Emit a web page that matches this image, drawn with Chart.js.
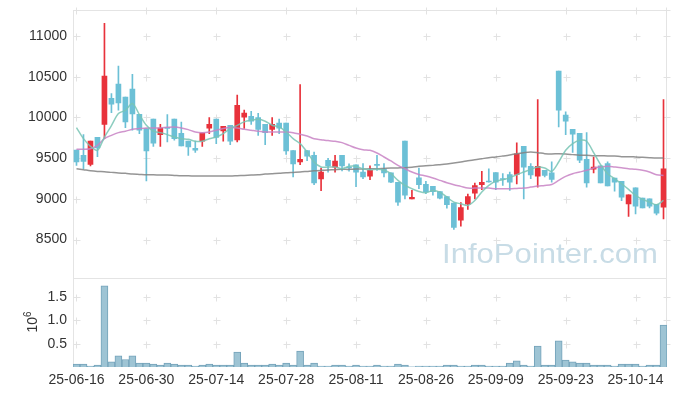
<!DOCTYPE html>
<html>
<head>
<meta charset="utf-8">
<script src="https://cdn.jsdelivr.net/npm/chart.js@4.4.1/dist/chart.umd.min.js"></script>
<style>html,body{margin:0;padding:0;background:#fff;}</style>
</head>
<body>
<canvas id="chart" width="677" height="396"></canvas>
<script>
const dates = [
  "25-06-16","25-06-17","25-06-18","25-06-19","25-06-20","25-06-23","25-06-24","25-06-25","25-06-26","25-06-27",
  "25-06-30","25-07-01","25-07-02","25-07-03","25-07-04","25-07-07","25-07-08","25-07-09","25-07-10","25-07-11",
  "25-07-14","25-07-15","25-07-16","25-07-17","25-07-18","25-07-21","25-07-22","25-07-23","25-07-24","25-07-25",
  "25-07-28","25-07-29","25-07-30","25-07-31","25-08-01","25-08-04","25-08-05","25-08-06","25-08-07","25-08-08",
  "25-08-11","25-08-12","25-08-13","25-08-14","25-08-18","25-08-19","25-08-20","25-08-21","25-08-22","25-08-25",
  "25-08-26","25-08-27","25-08-28","25-08-29","25-09-01","25-09-02","25-09-03","25-09-04","25-09-05","25-09-08",
  "25-09-09","25-09-10","25-09-11","25-09-12","25-09-15","25-09-16","25-09-17","25-09-18","25-09-19","25-09-22",
  "25-09-23","25-09-24","25-09-25","25-09-26","25-09-29","25-09-30","25-10-01","25-10-02","25-10-10","25-10-13",
  "25-10-14","25-10-15","25-10-16","25-10-17","25-10-20"
];

const openP = [
  9600,9535,9425,9755,9915,10235,10410,10250,10350,10040,
  9865,9980,9790,9880,9980,9805,9710,9620,9710,9870,
  9980,9835,9905,9725,10005,10015,10000,9915,9855,9930,
  9930,9595,9455,9595,9535,9245,9475,9390,9535,9390,
  9420,9330,9280,9425,9365,9320,9205,9710,9000,9260,
  9180,9155,9090,9030,8950,8740,8935,9070,9175,9220,
  9325,9250,9300,9300,9645,9400,9280,9350,9320,10570,
  10030,9855,9805,9485,9365,9405,9435,9255,9215,8940,
  9135,9010,9000,8935,8900
];
const highP = [
  9600,9790,9710,9755,11155,10295,10630,10250,10530,10040,
  9865,9980,9915,10035,9980,9945,9710,9710,9810,10000,
  9980,9890,9905,10275,10090,10075,10050,9915,10000,9980,
  9930,9595,10405,9595,9575,9380,9500,9535,9535,9430,
  9420,9435,9405,9535,9435,9320,9205,9710,9105,9380,
  9215,9155,9090,9030,8950,8955,9060,9195,9340,9370,
  9325,9310,9330,9690,9645,9435,10220,9350,9455,10570,
  10070,9855,9805,9815,9515,9405,9455,9255,9215,9050,
  9135,9010,9000,8935,10220
];
const lowP = [
  9410,9370,9405,9520,9740,10060,10090,9875,9845,9800,
  9220,9645,9645,9700,9720,9650,9535,9570,9645,9800,
  9680,9710,9665,9700,9865,9915,9780,9665,9780,9800,
  9545,9270,9420,9470,9175,9100,9330,9330,9345,9340,
  9150,9250,9235,9350,9270,9200,8920,9000,9000,9125,
  9065,9045,9000,8885,8625,8665,8870,9000,9115,9205,
  9115,9165,9105,9185,9000,9250,9145,9270,9205,9885,
  9790,9570,9445,9145,9320,9195,9160,9095,8980,8785,
  8815,8890,8890,8805,8755
];
const closeP = [
  9455,9460,9710,9625,10510,10165,10180,9945,10045,9845,
  9590,9685,9870,9865,9740,9650,9640,9600,9810,9915,
  9755,9890,9710,10150,10055,9955,9855,9815,9915,9870,
  9590,9430,9485,9525,9195,9330,9405,9465,9405,9380,
  9330,9270,9350,9410,9320,9205,8960,9045,9020,9175,
  9085,9090,9010,8930,8650,8895,9030,9165,9205,9210,
  9205,9240,9205,9555,9390,9295,9400,9290,9240,10090,
  9955,9795,9475,9195,9390,9195,9160,9205,9020,9050,
  8910,8890,8910,8825,9370
];

// moving averages as drawn (5, 20, 120 day)
const ma5 = [
  9876,9740,9646,9597,9760,9900,10048,10089,10171,10036,
  9904,9831,9814,9790,9761,9740,9732,9708,9708,9740,
  9761,9802,9864,9904,9946,9966,9978,9954,9904,9884,
  9822,9740,9679,9576,9453,9392,9392,9392,9371,9400,
  9400,9371,9359,9363,9351,9310,9228,9166,9125,9092,
  9076,9104,9084,9022,8961,8940,8920,8981,9084,9166,
  9219,9236,9262,9297,9330,9363,9392,9379,9338,9453,
  9597,9679,9720,9708,9568,9420,9310,9248,9186,9117,
  9043,8994,8961,8928,8981
];
const ma20 = [
  9609,9609,9617,9658,9740,9781,9814,9831,9855,9864,
  9872,9872,9872,9880,9884,9872,9851,9822,9814,9822,
  9843,9864,9876,9872,9855,9843,9831,9822,9822,9822,
  9822,9814,9794,9773,9740,9728,9716,9708,9691,9658,
  9625,9605,9597,9564,9515,9466,9412,9371,9330,9301,
  9281,9256,9228,9199,9174,9154,9133,9133,9133,9133,
  9125,9125,9125,9129,9133,9145,9158,9166,9178,9228,
  9277,9310,9330,9351,9379,9392,9400,9392,9383,9371,
  9363,9351,9330,9297,9289
];
const ma120 = [
  9371,9359,9346,9338,9334,9326,9318,9314,9305,9301,
  9297,9297,9293,9293,9289,9285,9285,9281,9281,9281,
  9281,9281,9281,9285,9289,9293,9297,9305,9310,9314,
  9322,9326,9330,9338,9346,9351,9355,9359,9363,9363,
  9367,9367,9371,9371,9375,9379,9381,9383,9390,9400,
  9408,9412,9420,9429,9440,9453,9468,9482,9494,9506,
  9515,9527,9540,9556,9568,9576,9568,9556,9552,9556,
  9552,9544,9536,9536,9531,9531,9527,9527,9519,9519,
  9515,9511,9506,9502,9502
];

// volume in units of 10^6
const volume = [
  0.064,0.064,0.02,0.04,1.74,0.11,0.24,0.16,0.24,0.086,
  0.086,0.064,0.04,0.086,0.064,0.04,0.04,0.02,0.04,0.064,
  0.04,0.04,0.04,0.32,0.086,0.04,0.04,0.04,0.064,0.04,
  0.086,0.04,0.34,0.04,0.086,0.02,0.02,0.04,0.04,0.02,
  0.04,0.02,0.02,0.04,0.02,0.02,0.064,0.04,0.004,0.02,
  0.02,0.02,0.02,0.04,0.04,0.02,0.02,0.04,0.04,0.02,
  0.02,0.02,0.086,0.13,0.04,0.02,0.45,0.04,0.04,0.56,
  0.15,0.11,0.086,0.086,0.04,0.04,0.04,0.02,0.064,0.064,
  0.064,0.02,0.04,0.04,0.90
];

const priceTicks = [8500, 9000, 9500, 10000, 10500, 11000];
const volTicks = [0.5, 1.0, 1.5];

const UP = "#e8323b";
const DOWN = "#6cc0d6";
const barColors = closeP.map((c, i) => c >= openP[i] ? UP : DOWN);
const wicks = lowP.map((l, i) => [l, highP[i]]);
const bodies = openP.map((o, i) => [Math.min(o, closeP[i]), Math.max(o, closeP[i])]);

const FONT = '"Liberation Sans", Arial, sans-serif';

/* frame, grid crosses, watermark, 10^6 label */
const decor = {
  id: "decor",
  beforeDatasetsDraw(chart) {
    const ctx = chart.ctx;
    const a = chart.chartArea;
    const x = chart.scales.x, y = chart.scales.y, yv = chart.scales.yv;
    ctx.save();

    ctx.font = "28px " + FONT;
    ctx.fillStyle = "#c8dce6";
    ctx.textBaseline = "alphabetic";
    const txt = "InfoPointer.com";
    const w = ctx.measureText(txt).width;
    ctx.translate(442, 263);
    ctx.scale(216 / w, 1);
    ctx.fillText(txt, 0, 0);
    ctx.restore();

    ctx.save();
    ctx.strokeStyle = "#e4e4e4";
    ctx.lineWidth = 1;
    ctx.beginPath();
    ctx.moveTo(a.left + 0.5, a.top);
    ctx.lineTo(a.left + 0.5, a.bottom);
    ctx.moveTo(a.right - 0.5, a.top);
    ctx.lineTo(a.right - 0.5, a.bottom);
    ctx.moveTo(a.left, a.top + 0.5);
    ctx.lineTo(a.right, a.top + 0.5);
    ctx.moveTo(a.left, Math.round(y.bottom) + 0.5);
    ctx.lineTo(a.right, Math.round(y.bottom) + 0.5);
    ctx.stroke();

    const xs = x.ticks.map(t => x.getPixelForValue(t.value));
    const cross = (px, py) => {
      px = Math.round(px) + 0.5; py = Math.round(py) + 0.5;
      ctx.moveTo(px - 3, py); ctx.lineTo(px + 4, py);
      ctx.moveTo(px, py - 3); ctx.lineTo(px, py + 4);
    };
    ctx.strokeStyle = "#e2e2e2";
    ctx.beginPath();
    const mainYs = priceTicks.map(v => y.getPixelForValue(v)).concat([a.top]);
    const volYs = volTicks.map(v => yv.getPixelForValue(v));
    xs.concat([a.right - 1]).forEach(px => {
      mainYs.concat(volYs).forEach(py => cross(px, py));
    });
    ctx.stroke();

    ctx.fillStyle = "#333";
    ctx.translate(37, 322);
    ctx.rotate(-Math.PI / 2);
    ctx.font = "14px " + FONT;
    const w10 = ctx.measureText("10").width;
    ctx.font = "10px " + FONT;
    const w6 = ctx.measureText("6").width;
    const x0 = -(w10 + w6) / 2;
    ctx.font = "14px " + FONT;
    ctx.fillText("10", x0, 0);
    ctx.font = "10px " + FONT;
    ctx.fillText("6", x0 + w10, -6);
    ctx.restore();
  }
};

const fitLeft = s => {
  s.width = 73;
  s.paddingTop = 0;
  s.paddingBottom = 0;
};

new Chart(document.getElementById("chart"), {
  data: {
    labels: dates,
    datasets: [
      { type: "line", data: ma5, yAxisID: "y", borderColor: "rgba(120,196,180,0.85)",
        borderWidth: 1.5, pointRadius: 0, tension: 0.3, order: 0 },
      { type: "line", data: ma20, yAxisID: "y", borderColor: "rgba(200,130,196,0.85)",
        borderWidth: 1.5, pointRadius: 0, tension: 0.3, order: 0 },
      { type: "line", data: ma120, yAxisID: "y", borderColor: "rgba(130,130,130,0.85)",
        borderWidth: 1.5, pointRadius: 0, tension: 0.3, order: 0 },
      { type: "bar", data: wicks, yAxisID: "y", backgroundColor: barColors,
        barThickness: 1, grouped: false, order: 3 },
      { type: "bar", data: bodies, yAxisID: "y", backgroundColor: barColors,
        barThickness: 5, grouped: false, order: 2 },
      { type: "bar", data: volume, yAxisID: "yv", backgroundColor: "#9ec4d4",
        borderColor: "#74a3ba", borderWidth: 1, barPercentage: 1, categoryPercentage: 1,
        grouped: false, order: 2 }
    ]
  },
  options: {
    responsive: false,
    animation: false,
    devicePixelRatio: 1,
    layout: { padding: { top: 10, right: 10, left: 0, bottom: 0 } },
    plugins: { legend: { display: false }, tooltip: { enabled: false } },
    scales: {
      x: {
        type: "category",
        offset: true,
        grid: { display: false, drawTicks: false },
        border: { display: false },
        afterBuildTicks: s => { s.ticks = s.ticks.filter(t => t.value % 10 === 0); },
        afterFit: s => { s.height = 29; },
        ticks: {
          autoSkip: false, maxRotation: 0, padding: 5,
          color: "#333", font: { family: FONT, size: 14 },
          callback: v => dates[v]
        }
      },
      yv: {
        type: "linear",
        position: "left",
        stack: "panels",
        stackWeight: 1,
        min: 0, max: 1.915,
        grid: { display: false, drawTicks: false },
        border: { display: false },
        afterBuildTicks: s => { s.ticks = volTicks.map(v => ({ value: v })); },
        afterFit: fitLeft,
        ticks: {
          padding: 6, color: "#333", font: { family: FONT, size: 14 },
          callback: v => v.toFixed(1)
        }
      },
      y: {
        type: "linear",
        position: "left",
        stack: "panels",
        stackWeight: 3,
        min: 8032, max: 11320,
        grid: { display: false, drawTicks: false },
        border: { display: false },
        afterBuildTicks: s => { s.ticks = priceTicks.map(v => ({ value: v })); },
        afterFit: fitLeft,
        ticks: {
          padding: 6, color: "#333", font: { family: FONT, size: 14 },
          callback: v => String(v)
        }
      }
    }
  },
  plugins: [decor]
});
</script>
</body>
</html>
